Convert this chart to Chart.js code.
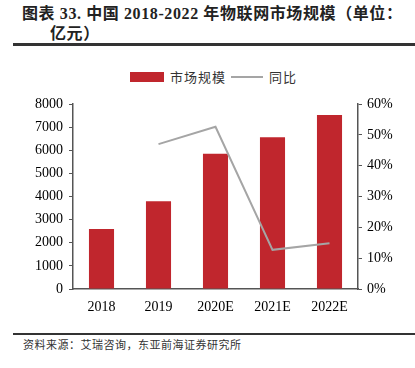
<!DOCTYPE html>
<html>
<head>
<meta charset="utf-8">
<script src="https://cdn.jsdelivr.net/npm/chart.js@4"></script>
<style>
    body { margin: 0; width: 415px; height: 368px; background: #fff; position: relative; overflow: hidden; }
    .title { position: absolute; left: 22px; top: 4px; font: bold 16px "Liberation Serif", "Noto Sans CJK SC"; color: #222; line-height: 20px; letter-spacing: 0.6px; white-space: nowrap; }
    .title .l2 { display: inline-block; padding-left: 28px; }
    .rule-top { position: absolute; left: 13px; right: 0; top: 43px; height: 3px; background: #333; }
    .rule-bottom { position: absolute; left: 13px; right: 0; top: 333px; height: 2px; background: #333; }
    .source { position: absolute; left: 23px; top: 336px; font: 11px "Noto Sans CJK SC"; color: #333; letter-spacing: 0.5px; white-space: nowrap; }
    .legend { position: absolute; top: 69px; left: 0; font: 13px "Noto Sans CJK SC"; color: #333; letter-spacing: 1px; }
    .legend span { position: absolute; white-space: nowrap; }
    #chart { position: absolute; left: 0; top: 60px; }
</style>
</head>
<body>
<div class="title">图表 33. 中国 2018-2022 年物联网市场规模（单位：<br><span class="l2">亿元）</span></div>
<div class="rule-top"></div>
<div class="legend">
    <span style="left:130px;top:3px;width:34px;height:10px;background:#C0262D"></span>
    <span style="left:170px;top:-2px">市场规模</span>
    <span style="left:231px;top:7px;width:32px;height:2px;background:#A5A5A5"></span>
    <span style="left:269px;top:-2px">同比</span>
</div>
<canvas id="chart" width="415" height="260"></canvas>
<div class="rule-bottom"></div>
<div class="source">资料来源：艾瑞咨询，东亚前海证券研究所</div>

<script>
const years = ['2018', '2019', '2020E', '2021E', '2022E'];
const marketSize = [2600, 3800, 5850, 6560, 7520];
const yoyGrowth = [null, 0.47, 0.526, 0.127, 0.148];

const tickFont = { family: '"Liberation Serif", serif', size: 14 };
const axisColor = '#555';

const ctx = document.getElementById('chart').getContext('2d');
new Chart(ctx, {
    type: 'bar',
    data: {
        labels: years,
        datasets: [
            {
                type: 'line',
                label: '同比',
                data: yoyGrowth,
                yAxisID: 'y1',
                borderColor: '#A5A5A5',
                borderWidth: 2,
                pointRadius: 0,
                tension: 0,
                order: 0,
            },
            {
                label: '市场规模',
                data: marketSize,
                yAxisID: 'y',
                backgroundColor: '#C0262D',
                categoryPercentage: 1,
                barPercentage: 0.44,
                order: 1,
            },
        ]
    },
    options: {
        responsive: false,
        animation: false,
        layout: { padding: { top: 44, left: 0, right: 0, bottom: 0 } },
        plugins: {
            legend: { display: false },
            tooltip: { enabled: false },
        },
        scales: {
            x: {
                grid: { display: false, drawTicks: false },
                border: { display: true, color: axisColor, width: 1.5 },
                ticks: { font: tickFont, color: '#000', padding: 10 },
                afterFit: scale => { scale.height = 31; },
            },
            y: {
                position: 'left',
                min: 0,
                max: 8000,
                grid: { drawOnChartArea: false, drawTicks: true, tickLength: 4, color: axisColor },
                border: { display: true, color: axisColor, width: 1.5 },
                ticks: { stepSize: 1000, font: tickFont, color: '#000', padding: 6, callback: v => String(v) },
                afterFit: scale => { scale.width = 73; },
            },
            y1: {
                position: 'right',
                min: 0,
                max: 0.6,
                grid: { drawOnChartArea: false, drawTicks: true, tickLength: 4, color: axisColor },
                border: { display: true, color: axisColor, width: 1.5 },
                ticks: {
                    stepSize: 0.1,
                    font: tickFont,
                    color: '#000',
                    padding: 5,
                    callback: v => Math.round(v * 100) + '%',
                },
                afterFit: scale => { scale.width = 57; },
            },
        }
    }
});
</script>
</body>
</html>
